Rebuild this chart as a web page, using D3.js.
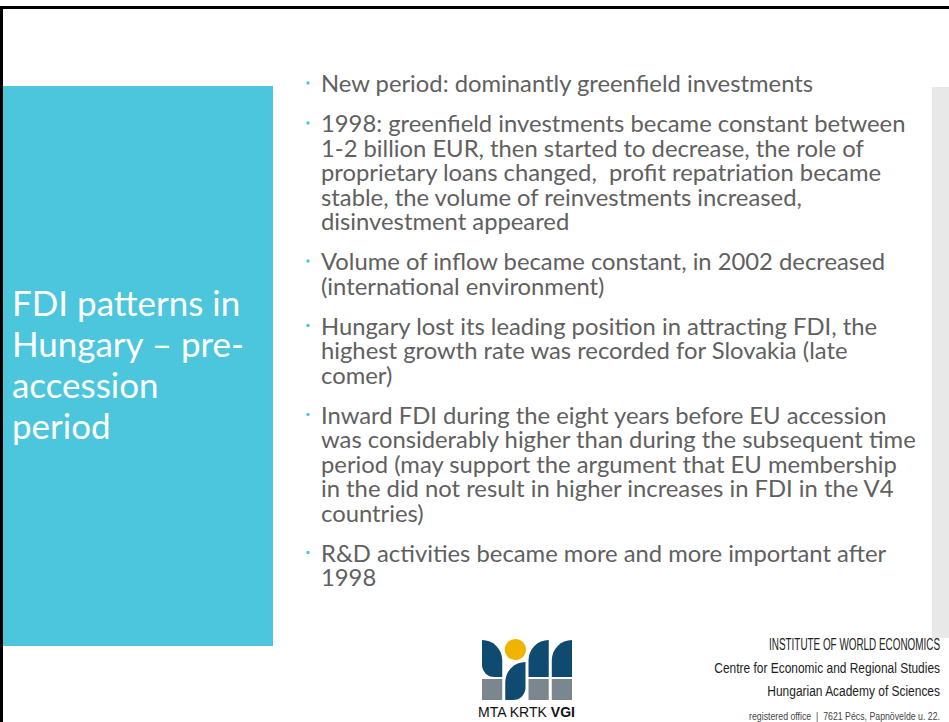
<!DOCTYPE html>
<html>
<head>
<meta charset="utf-8">
<script src="https://cdn.jsdelivr.net/npm/d3@7"></script>
<style>
  html, body { margin: 0; padding: 0; background: #fff; }
  svg { display: block; }
</style>
</head>
<body>
<div id="slide"></div>
<script>
// slide title, one entry per line
const titleLines = ['FDI patterns in', 'Hungary – pre-', 'accession', 'period'];

// bullet points, each split into its lines as on the slide
const bullets = [
  ['New period: dominantly greenfield investments'],
  ['1998: greenfield investments became constant between',
   '1-2 billion EUR, then started to decrease, the role of',
   'proprietary loans changed,  profit repatriation became',
   'stable, the volume of reinvestments increased,',
   'disinvestment appeared'],
  ['Volume of inflow became constant, in 2002 decreased',
   '(international environment)'],
  ['Hungary lost its leading position in attracting FDI, the',
   'highest growth rate was recorded for Slovakia (late',
   'comer)'],
  ['Inward FDI during the eight years before EU accession',
   'was considerably higher than during the subsequent time',
   'period (may support the argument that EU membership',
   'in the did not result in higher increases in FDI in the V4',
   'countries)'],
  ['R&D activities became more and more important after',
   '1998']
];

// footer block (institution)
const footerLines = [
  'INSTITUTE OF WORLD ECONOMICS',
  'Centre for Economic and Regional Studies',
  'Hungarian Academy of Sciences',
  'registered office  |  7621 Pécs, Papnövelde u. 22.'
];
const logoLabel = ['MTA KRTK ', 'VGI'];

//colours
const COLORS = {
  accent: '#4bc6dc',
  text: '#606060',
  side: '#e8e8e8',
  frame: '#000',
  navy: '#0f4a70',
  gold: '#f0b400',
  slate: '#7b868e'
};

const W = 949, H = 722;
const BODY_FONT = 'Lato, "Open Sans", sans-serif';
const NARROW_FONT = '"Liberation Sans", "DejaVu Sans", sans-serif';

const svg = d3.select('#slide').append('svg')
  .attr('width', W)
  .attr('height', H)
  .attr('viewBox', `0 0 ${W} ${H}`);

//frame lines
svg.append('rect').attr('x', 0).attr('y', 6).attr('width', W).attr('height', 3).attr('fill', COLORS.frame);
svg.append('rect').attr('x', 0).attr('y', 6).attr('width', 3).attr('height', H - 6).attr('fill', COLORS.frame);

//title panel
svg.append('rect')
  .attr('x', 3).attr('y', 86)
  .attr('width', 270).attr('height', 560)
  .attr('fill', COLORS.accent);

//grey strip on the right
svg.append('rect')
  .attr('x', 932).attr('y', 87)
  .attr('width', W - 932).attr('height', 551)
  .attr('fill', COLORS.side);

// fit a font size so that a sample line spans the target width
function fitSize(sample, family, target, weight) {
  const probe = svg.append('text')
    .attr('font-family', family)
    .attr('font-size', 20)
    .attr('font-weight', weight || 'normal')
    .text(sample);
  const w = probe.node().getComputedTextLength();
  probe.remove();
  return 20 * target / w;
}

// squeeze a text horizontally so it spans target width (condensed look)
function squeeze(sel, target, anchorX) {
  const w = sel.node().getBBox().width;
  const k = target / w;
  sel.attr('transform', `translate(${anchorX},0) scale(${k},1) translate(${-anchorX},0)`);
}

//title
const titleSize = fitSize(titleLines[1], BODY_FONT, 232);
svg.append('g')
  .selectAll('text')
  .data(titleLines)
  .join('text')
  .attr('x', 12)
  .attr('y', (d, i) => 316 + i * 41)
  .attr('fill', '#fff')
  .attr('font-family', BODY_FONT)
  .attr('font-size', titleSize)
  .text(d => d);

//bullets
const bodySize = fitSize(bullets[4][1], BODY_FONT, 595);
const LINE_H = 24.5, PARA_GAP = 15.5;
let yCursor = 92;
const gBody = svg.append('g').attr('class', 'body');
bullets.forEach(lines => {
  gBody.append('circle')
    .attr('cx', 308)
    .attr('cy', yCursor - 9)
    .attr('r', 1.7)
    .attr('fill', COLORS.accent);
  gBody.append('g')
    .selectAll('text')
    .data(lines)
    .join('text')
    .attr('x', 321)
    .attr('y', (d, i) => yCursor + i * LINE_H)
    .attr('fill', COLORS.text)
    .attr('font-family', BODY_FONT)
    .attr('font-size', bodySize)
    .style('white-space', 'pre')
    .text(d => d);
  yCursor += lines.length * LINE_H + PARA_GAP;
});

//footer text, right aligned and condensed
const footerLeft = [769, 714, 767, 749];
const footerBase = [650, 673, 696, 720];
const footerSize = [16, 15.5, 15.5, 11];
footerLines.forEach((t, i) => {
  const txt = svg.append('text')
    .attr('x', 940)
    .attr('y', footerBase[i])
    .attr('text-anchor', 'end')
    .attr('fill', i === 3 ? '#444' : '#222')
    .attr('font-family', NARROW_FONT)
    .attr('font-size', footerSize[i])
    .style('white-space', 'pre')
    .text(t);
  squeeze(txt, 940 - footerLeft[i], 940);
});

//logo
const gLogo = svg.append('g').attr('class', 'logo').attr('transform', 'translate(482,640)');
const cellX = d3.scaleBand().domain([0, 1, 2, 3]).range([0, 90]).paddingInner(0.13);
const cw = cellX.bandwidth();
const topH = 37, botY = 39, botH = 21;
function leaf(x, y, w, h, corners) {
  // corners: [tl, tr, br, bl] radii
  const [tl, tr, br, bl] = corners;
  return `M${x + tl},${y}H${x + w - tr}` +
    (tr ? `A${tr},${tr} 0 0 1 ${x + w},${y + tr}` : '') +
    `V${y + h - br}` +
    (br ? `A${br},${br} 0 0 1 ${x + w - br},${y + h}` : '') +
    `H${x + bl}` +
    (bl ? `A${bl},${bl} 0 0 1 ${x},${y + h - bl}` : '') +
    `V${y + tl}` +
    (tl ? `A${tl},${tl} 0 0 1 ${x + tl},${y}` : '') + 'Z';
}
gLogo.append('path').attr('d', leaf(cellX(0), 0, cw, topH, [0, cw, 0, cw * 0.6])).attr('fill', COLORS.navy);
gLogo.append('circle').attr('cx', cellX(1) + cw / 2).attr('cy', 9.5).attr('r', cw / 2 + 0.5).attr('fill', COLORS.gold);
gLogo.append('path').attr('d', leaf(cellX(1), 22, cw, 38, [cw, 0, cw * 0.6, 0])).attr('fill', COLORS.navy);
gLogo.append('path').attr('d', leaf(cellX(2), 0, cw, topH, [cw, 0, 0, 0])).attr('fill', COLORS.navy);
gLogo.append('path').attr('d', leaf(cellX(3), 0, cw, topH, [cw, 0, 0, 0])).attr('fill', COLORS.navy);
[0, 2, 3].forEach(c => {
  gLogo.append('rect').attr('x', cellX(c)).attr('y', botY).attr('width', cw).attr('height', botH).attr('fill', COLORS.slate);
});
const logoText = svg.append('text')
  .attr('x', 478).attr('y', 717)
  .attr('fill', '#111')
  .attr('font-family', NARROW_FONT)
  .attr('font-size', 14.5)
  .style('white-space', 'pre');
logoText.append('tspan').text(logoLabel[0]);
logoText.append('tspan').attr('font-weight', 'bold').text(logoLabel[1]);
squeeze(logoText, 97, 478);
</script>
</body>
</html>
